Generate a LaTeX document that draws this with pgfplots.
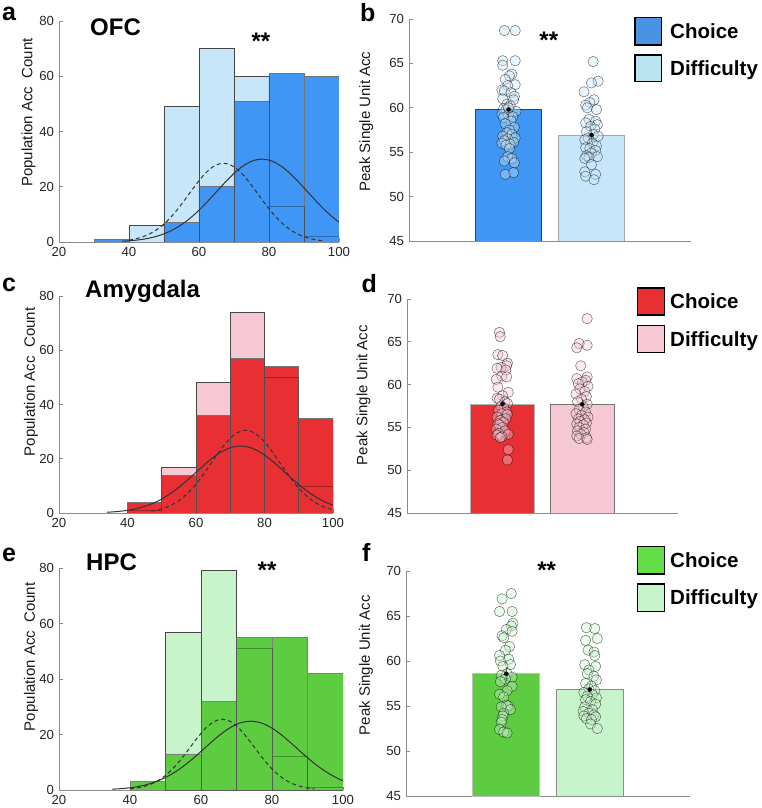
\documentclass[border=0pt]{standalone}
\usepackage{pgfplots}
\pgfplotsset{compat=1.18}
\usepackage{fontspec}
\setmainfont{Liberation Sans}
\definecolor{cblue}{RGB}{64,150,244}
\definecolor{lblue}{RGB}{200,230,250}
\definecolor{legblue}{RGB}{74,146,228}
\definecolor{leglblue}{RGB}{186,228,242}
\definecolor{cred}{RGB}{232,48,52}
\definecolor{lred}{RGB}{245,200,212}
\definecolor{cgreen}{RGB}{94,204,64}
\definecolor{lgreen}{RGB}{200,244,204}
\definecolor{leggreen}{RGB}{100,222,72}
\newcommand{\tickfont}{\fontsize{13.2}{15}\selectfont}
\newcommand{\labfont}{\fontsize{15}{17}\selectfont}
\newcommand{\titfont}{\fontsize{24}{28}\selectfont\bfseries}
\newcommand{\panfont}{\fontsize{25}{29}\selectfont\bfseries}
\newcommand{\legfont}{\fontsize{20.5}{24}\selectfont\bfseries}
\pgfplotsset{
  common/.style={scale only axis, axis lines=left,
    axis line style={-, black!45, line width=0.6pt},
    tick align=inside, major tick length=3.5pt,
    tick style={black!45, line width=0.6pt},
    ticklabel style={font=\tickfont, text=black!85},
    yticklabel style={xshift=-1.5pt},
    xticklabel style={yshift=-1.5pt},
    /pgf/number format/assume math mode=true,
    ylabel style={font=\labfont, text=black!90, anchor=center}},
  histax/.style={common, xmin=20, xmax=100, ymin=0, ymax=80,
    xtick={20,40,60,80,100}, ytick={0,20,40,60,80},
    ylabel={Population Acc~ Count}},
  barax/.style={common, xmin=-0.2, xmax=3.2, ymin=45, ymax=70,
    xtick=\empty, ytick={45,50,55,60,65,70},
    ylabel={Peak Single Unit Acc}},
  hbar/.style={ybar, bar width=10, bar shift=0pt, line width=0.6pt},
  bbar/.style={ybar, bar width=0.8, bar shift=0pt, line width=0.7pt},
  pts/.style={only marks, mark=*, mark size=5.2pt,
    mark options={fill=#1, fill opacity=0.4, draw=black, draw opacity=0.6, line width=0.45pt}},
  errb/.style={black, only marks, mark=none, error bars/.cd, y dir=both, y explicit,
    error bar style={black, line width=0.9pt},
    error mark options={black, mark size=2.4pt, line width=0.9pt}},
  fitsolid/.style={black!80, line width=1pt, smooth, mark=none},
  fitdash/.style={black!80, line width=1pt, smooth, mark=none, dash pattern=on 4pt off 3pt},
}
\begin{document}
\begin{tikzpicture}[x=1pt,y=1pt]
\path[use as bounding box] (0,0) rectangle (762,808);

% ---------------- a: OFC histogram
\begin{axis}[histax, at={(59pt,566pt)}, anchor=south west, width=280pt, height=221pt,
  ylabel style={at={(axis description cs:-0.109,0.586)}}]
\addplot[hbar, fill=lblue, draw=black!60] coordinates {(45,6)(55,49)(65,70)(75,60)(85,13)(95,2)};
\addplot[hbar, fill=cblue, draw=black!55] coordinates {(35,1)(55,7)(65,20)(75,51)(85,61)(95,60)};
\addplot[hbar, fill=none, draw=black, draw opacity=0.3] coordinates {(45,6)(55,49)(65,70)(75,60)(85,13)(95,2)};
\addplot[fitsolid] coordinates {(38,0.26)(40,0.42)(42,0.65)(44,0.98)(46,1.45)(48,2.09)(50,2.95)(52,4.06)(54,5.46)(56,7.17)(58,9.19)(60,11.50)(62,14.07)(64,16.80)(66,19.59)(68,22.32)(70,24.82)(72,26.97)(74,28.61)(76,29.65)(78,30)(80,29.65)(82,28.61)(84,26.97)(86,24.82)(88,22.32)(90,19.59)(92,16.80)(94,14.07)(96,11.50)(98,9.19)(100,7.17)};
\addplot[fitdash] coordinates {(40,0.69)(42,1.17)(44,1.92)(46,3.00)(48,4.52)(50,6.53)(52,9.04)(54,12.03)(56,15.37)(58,18.85)(60,22.20)(62,25.09)(64,27.22)(66,28.35)(68,28.35)(70,27.22)(72,25.09)(74,22.20)(76,18.85)(78,15.37)(80,12.03)(82,9.04)(84,6.53)(86,4.52)(88,3.00)(90,1.92)(92,1.17)(94,0.69)(96,0.39)};
\end{axis}

% ---------------- b: OFC bars
\begin{axis}[barax, at={(409pt,567pt)}, anchor=south west, width=282pt, height=222pt,
  ylabel style={at={(axis description cs:-0.152,0.538)}}]
\addplot[bbar, fill=cblue, draw=black!75] coordinates {(1,59.81)};
\addplot[bbar, fill=lblue, draw=black!35] coordinates {(2,56.92)};
\addplot[pts=lblue] coordinates {(0.95,68.7)(1.08,68.7)(0.93,65.3)(1.08,65.3)(0.93,64.8)(1.04,63.8)(1.01,63.6)(0.96,63.2)(1.08,62.6)(0.99,62.5)(0.92,62.0)(0.95,61.9)(1.03,61.7)(1.07,61.3)(0.93,61.0)(1.06,60.9)(0.98,60.4)(1.02,60.2)(0.94,59.9)(0.97,59.8)(1.09,59.6)(0.92,59.3)(1.00,59.2)(1.05,59.0)(0.94,58.9)(1.03,58.5)(0.96,58.2)(1.07,57.8)(1.01,57.5)(0.98,57.2)(1.04,57.0)(0.93,56.8)(1.08,56.6)(0.99,56.5)(0.95,56.3)(1.06,56.1)(0.92,56.0)(1.02,55.9)(0.97,55.8)(1.01,55.4)(0.99,54.5)(1.04,54.3)(0.95,54.0)(1.07,53.8)(1.06,52.7)(0.96,52.5)(1.00,60.0)};
\addplot[pts=lblue] coordinates {(2.02,65.2)(2.08,63.0)(2.00,62.8)(1.91,61.8)(2.03,60.9)(1.98,60.6)(1.93,60.3)(1.95,60.0)(2.06,59.8)(1.97,58.7)(2.05,58.5)(1.93,58.3)(2.07,58.1)(1.99,57.9)(2.04,57.6)(1.94,57.3)(2.02,57.0)(2.08,56.8)(1.96,56.6)(1.92,56.4)(2.01,56.0)(2.06,55.7)(1.93,55.5)(1.98,55.4)(2.05,55.2)(2.00,54.9)(1.94,54.6)(2.07,54.5)(1.97,54.4)(1.92,54.3)(2.00,53.6)(1.92,52.8)(2.05,52.5)(1.93,52.3)(2.03,51.9)};
\addplot[errb] coordinates {(1,59.81) +- (0,0.62) (2,56.92) +- (0,0.45)};
\end{axis}

% ---------------- c: Amygdala histogram
\begin{axis}[histax, at={(59pt,295pt)}, anchor=south west, width=274pt, height=217pt,
  ylabel style={at={(axis description cs:-0.102,0.604)}}]
\addplot[hbar, fill=lred, draw=black!60] coordinates {(45,1)(55,17)(65,48)(75,74)(85,50)(95,10)};
\addplot[hbar, fill=cred, draw=black!55] coordinates {(45,4)(55,14)(65,36)(75,57)(85,54)(95,35)};
\addplot[hbar, fill=none, draw=black, draw opacity=0.3] coordinates {(45,1)(55,17)(65,48)(75,74)(85,50)(95,10)};
\addplot[fitsolid] coordinates {(34,0.27)(37,0.53)(40,0.99)(43,1.72)(46,2.86)(49,4.50)(52,6.70)(55,9.47)(58,12.69)(61,16.13)(64,19.44)(67,22.21)(70,24.05)(73,24.7)(76,24.05)(79,22.21)(82,19.44)(85,16.13)(88,12.69)(91,9.47)(94,6.70)(97,4.50)(100,2.86)};
\addplot[fitdash] coordinates {(47,0.70)(49.5,1.34)(52,2.43)(54.5,4.13)(57,6.60)(59.5,9.90)(62,13.96)(64.5,18.50)(67,23.02)(69.5,26.92)(72,29.56)(74.5,30.5)(77,29.56)(79.5,26.92)(82,23.02)(84.5,18.50)(87,13.96)(89.5,9.90)(92,6.60)(94.5,4.13)(97,2.43)(99.5,1.34)};
\end{axis}

% ---------------- d: Amygdala bars
\begin{axis}[barax, at={(407pt,295pt)}, anchor=south west, width=271pt, height=214pt,
  ylabel style={at={(axis description cs:-0.161,0.551)}}]
\addplot[bbar, fill=cred, draw=black!30] coordinates {(1,57.75)};
\addplot[bbar, fill=lred, draw=black!55] coordinates {(2,57.68)};
\addplot[pts=lred] coordinates {(0.96,66.1)(0.97,65.6)(0.94,63.5)(1.00,63.4)(1.06,62.5)(1.05,62.2)(0.98,62.0)(0.93,61.9)(1.04,61.7)(0.99,61.0)(1.05,60.9)(0.92,60.6)(0.94,59.7)(1.07,59.1)(1.00,58.7)(0.93,58.4)(0.96,58.3)(1.03,58.0)(1.06,57.8)(0.98,57.5)(1.02,57.2)(0.95,57.0)(1.05,56.8)(0.99,56.6)(1.06,56.5)(0.93,56.2)(1.04,56.0)(0.97,55.8)(1.01,55.6)(0.94,55.4)(0.96,55.3)(1.00,55.0)(0.92,54.8)(1.03,54.6)(0.95,54.3)(1.07,54.2)(0.93,54.1)(0.99,53.9)(0.97,53.8)(1.07,52.4)(1.06,51.2)};
\addplot[pts=lred] coordinates {(2.06,67.7)(1.96,64.8)(2.06,64.6)(1.93,64.3)(1.98,62.2)(2.06,60.9)(1.93,60.7)(2.04,60.5)(2.00,60.3)(1.95,60.1)(2.07,59.8)(1.97,59.5)(2.03,59.2)(1.92,58.9)(2.05,58.6)(1.99,58.3)(1.94,58.0)(2.06,57.7)(2.01,57.4)(1.96,57.1)(2.04,56.8)(1.92,56.6)(1.99,56.4)(2.07,56.2)(1.95,56.0)(2.03,55.9)(1.97,55.7)(2.05,55.5)(1.93,55.4)(2.01,55.3)(1.96,55.0)(2.04,54.8)(1.94,54.6)(2.02,54.4)(1.98,54.2)(1.93,54.0)(2.05,53.8)(1.96,53.7)(2.06,53.6)};
\addplot[errb] coordinates {(1,57.75) +- (0,0.5) (2,57.68) +- (0,0.4)};
\end{axis}

% ---------------- e: HPC histogram
\begin{axis}[histax, at={(59pt,18pt)}, anchor=south west, width=284pt, height=222pt,
  ylabel style={at={(axis description cs:-0.099,0.6)}}]
\addplot[hbar, fill=lgreen, draw=black!60] coordinates {(55,57)(65,79)(75,51)(85,12)(95,1)};
\addplot[hbar, fill=cgreen, draw=black!50] coordinates {(45,3)(55,13)(65,32)(75,55)(85,55)(95,42)};
\addplot[hbar, fill=none, draw=black, draw opacity=0.3] coordinates {(55,57)(65,79)(75,51)(85,12)(95,1)};
\addplot[fitsolid] coordinates {(35,0.28)(38,0.54)(41,0.99)(44,1.73)(47,2.87)(50,4.51)(53,6.73)(56,9.51)(59,12.74)(62,16.20)(65,19.52)(68,22.30)(71,24.15)(74,24.8)(77,24.15)(80,22.30)(83,19.52)(86,16.20)(89,12.74)(92,9.51)(95,6.73)(98,4.51)(100,3.36)};
\addplot[fitdash] coordinates {(40,0.39)(41.25,0.58)(43.5,1.12)(45.75,2.03)(48,3.45)(50.25,5.52)(52.5,8.28)(54.75,11.67)(57,15.47)(59.25,19.25)(61.5,22.50)(63.75,24.71)(66,25.5)(68.25,24.71)(70.5,22.50)(72.75,19.25)(75,15.47)(77.25,11.67)(79.5,8.28)(81.75,5.52)(84,3.45)(86.25,2.03)(88.5,1.12)(90.75,0.58)(92,0.39)};
\end{axis}

% ---------------- f: HPC bars
\begin{axis}[barax, at={(406pt,12pt)}, anchor=south west, width=284pt, height=225pt,
  ylabel style={at={(axis description cs:-0.141,0.582)}}]
\addplot[bbar, fill=cgreen, draw=black!25] coordinates {(1,58.58)};
\addplot[bbar, fill=lgreen, draw=black!45] coordinates {(2,56.83)};
\addplot[pts=lgreen] coordinates {(1.06,67.5)(0.95,66.9)(0.92,65.5)(1.07,65.5)(1.08,64.2)(1.06,63.9)(1.00,63.5)(1.07,63.3)(0.95,62.8)(0.97,62.6)(1.04,61.6)(0.99,61.2)(0.92,60.6)(1.03,60.2)(0.93,60.0)(1.05,59.6)(0.96,59.4)(1.01,58.6)(0.94,58.4)(1.07,58.2)(0.99,58.0)(0.93,57.7)(1.07,57.2)(1.01,56.7)(0.92,56.3)(0.97,56.0)(1.00,55.1)(1.02,55.0)(0.94,54.9)(1.05,54.6)(0.97,54.2)(0.96,53.9)(0.95,53.5)(0.94,53.2)(0.92,52.4)(0.97,52.1)(1.01,52.0)};
\addplot[pts=lgreen] coordinates {(1.96,63.7)(2.06,63.6)(2.09,62.5)(1.95,62.3)(1.98,61.2)(2.05,61.0)(2.06,60.6)(1.94,59.6)(2.07,59.4)(1.99,59.0)(1.97,58.6)(2.05,58.3)(2.08,57.9)(1.95,57.5)(2.02,57.2)(1.99,56.9)(2.06,56.7)(1.93,56.5)(2.03,56.3)(1.97,56.1)(2.08,55.9)(1.95,55.7)(2.01,55.5)(2.07,55.2)(1.94,54.9)(2.03,54.6)(1.92,54.4)(1.99,54.2)(2.05,54.0)(1.93,53.9)(2.07,53.8)(1.96,53.6)(2.02,53.5)(2.01,53.0)(2.09,52.5)};
\addplot[errb] coordinates {(1,58.58) +- (0,0.52) (2,56.83) +- (0,0.37)};
\end{axis}

% ---------------- panel letters and titles
\begin{scope}[every node/.style={inner sep=0pt, anchor=base west}]
\node at (2,787.3) {\panfont a};
\node at (360,786.3) {\panfont b};
\node at (2,516) {\panfont c};
\node at (361.5,515) {\panfont d};
\node at (2,246.3) {\panfont e};
\node at (362,246.3) {\panfont f};
\node at (90,772.3) {\titfont OFC};
\node at (85,510.7) {\titfont Amygdala};
\node at (86,237.3) {\titfont HPC};
\node[anchor=base] at (261,758.6) {\titfont **};
\node[anchor=base] at (548.8,759.6) {\titfont **};
\node[anchor=base] at (267,229.6) {\titfont **};
\node[anchor=base] at (546.7,229.6) {\titfont **};
% legends
\draw[fill=legblue, line width=1.5pt] (635,763) rectangle (661.7,790.7);
\draw[fill=leglblue, line width=1.5pt] (635,726.3) rectangle (661.7,753);
\node at (670,769.5) {\legfont Choice};
\node at (670,732.3) {\legfont Difficulty};
\draw[fill=cred, line width=1.5pt] (637.7,493) rectangle (664.3,520);
\draw[fill=lred, line width=1.5pt] (637.7,455.7) rectangle (664.3,482.3);
\node at (670,499.2) {\legfont Choice};
\node at (670,461.7) {\legfont Difficulty};
\draw[fill=leggreen, line width=1.5pt] (637.7,234) rectangle (664.3,261.3);
\draw[fill=lgreen, line width=1.5pt] (637.7,196.7) rectangle (664.3,224);
\node at (670,240.3) {\legfont Choice};
\node at (670,203) {\legfont Difficulty};
\end{scope}
\end{tikzpicture}
\end{document}
